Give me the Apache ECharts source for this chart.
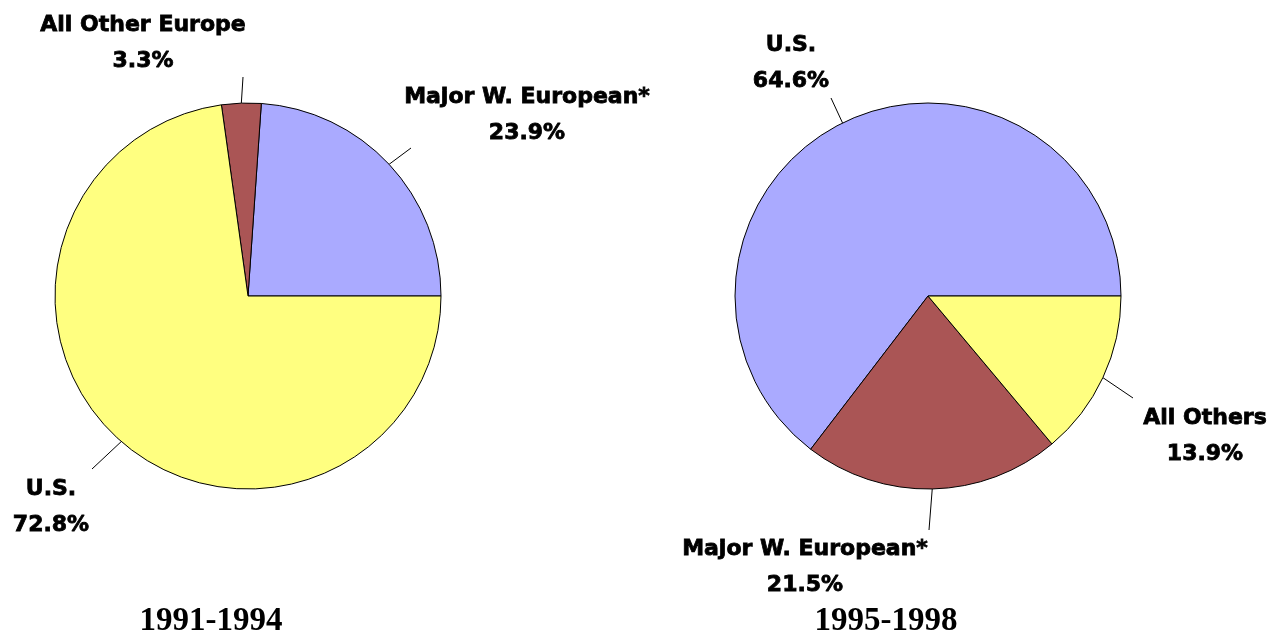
<!DOCTYPE html>
<html><head><meta charset="utf-8">
<script src="https://cdn.jsdelivr.net/npm/echarts@6/dist/echarts.min.js"></script>
<style>html,body{margin:0;padding:0;background:#fff}#c{width:1274px;height:636px}</style>
</head><body><div id="c"></div>
<script>
const leftCategories = ['Major W. European*', 'All Other Europe', 'U.S.'];
const leftValues = [23.9, 3.3, 72.8];
const leftColors = ['#AAAAFF', '#AA5555', '#FFFF80'];
const rightCategories = ['U.S.', 'Major W. European*', 'All Others'];
const rightValues = [64.6, 21.5, 13.9];
const rightColors = ['#AAAAFF', '#AA5555', '#FFFF80'];
const periodLabels = ['1991-1994', '1995-1998'];

// label layout (text centre, leader-line end)
const leftLayout = [
  {x: 527, y: 115, lx: 411, ly: 148},
  {x: 143, y: 43, lx: 243, ly: 77},
  {x: 51, y: 507, lx: 92, ly: 469}
];
const rightLayout = [
  {x: 791, y: 63, lx: 831, ly: 98},
  {x: 805, y: 567, lx: 929, ly: 530},
  {x: 1205, y: 436, lx: 1133, ly: 398}
];

function mk(cats, vals, cols) {
  return cats.map((n, i) => ({name: n, value: vals[i], itemStyle: {color: cols[i]}}));
}
function layoutFn(L) {
  return function (p) {
    const s = L[p.dataIndex];
    const start = p.labelLinePoints ? p.labelLinePoints[0] : [s.lx, s.ly];
    return {
      x: s.x, y: s.y, align: 'center', verticalAlign: 'middle',
      labelLinePoints: [start, [s.lx, s.ly], [s.lx, s.ly]]
    };
  };
}
const labelStyle = {
  show: true, position: 'outside', formatter: '{b}\n{c}%',
  fontFamily: 'DejaVu Sans', fontWeight: 'bold', fontSize: 22, lineHeight: 36,
  color: '#000', align: 'center', textBorderColor: '#000', textBorderWidth: 0.8
};
const common = {
  type: 'pie', radius: 193, startAngle: 0, clockwise: false,
  silent: true, animation: false,
  itemStyle: {borderColor: '#000', borderWidth: 1},
  label: labelStyle,
  labelLine: {show: true, length: 10, length2: 10, lineStyle: {color: '#000', width: 1}}
};
const chart = echarts.init(document.getElementById('c'), null, {renderer: 'canvas'});
chart.setOption({
  backgroundColor: '#fff',
  animation: false,
  series: [
    Object.assign({}, common, {center: [248, 296], data: mk(leftCategories, leftValues, leftColors), labelLayout: layoutFn(leftLayout)}),
    Object.assign({}, common, {center: [928, 296], data: mk(rightCategories, rightValues, rightColors), labelLayout: layoutFn(rightLayout)})
  ],
  graphic: [
    {type: 'text', x: 211, y: 621, style: {text: periodLabels[0], fill: '#000', font: 'bold 33px "Liberation Serif"', align: 'center', verticalAlign: 'middle'}},
    {type: 'text', x: 886, y: 621, style: {text: periodLabels[1], fill: '#000', font: 'bold 33px "Liberation Serif"', align: 'center', verticalAlign: 'middle'}}
  ]
});
</script></body></html>
